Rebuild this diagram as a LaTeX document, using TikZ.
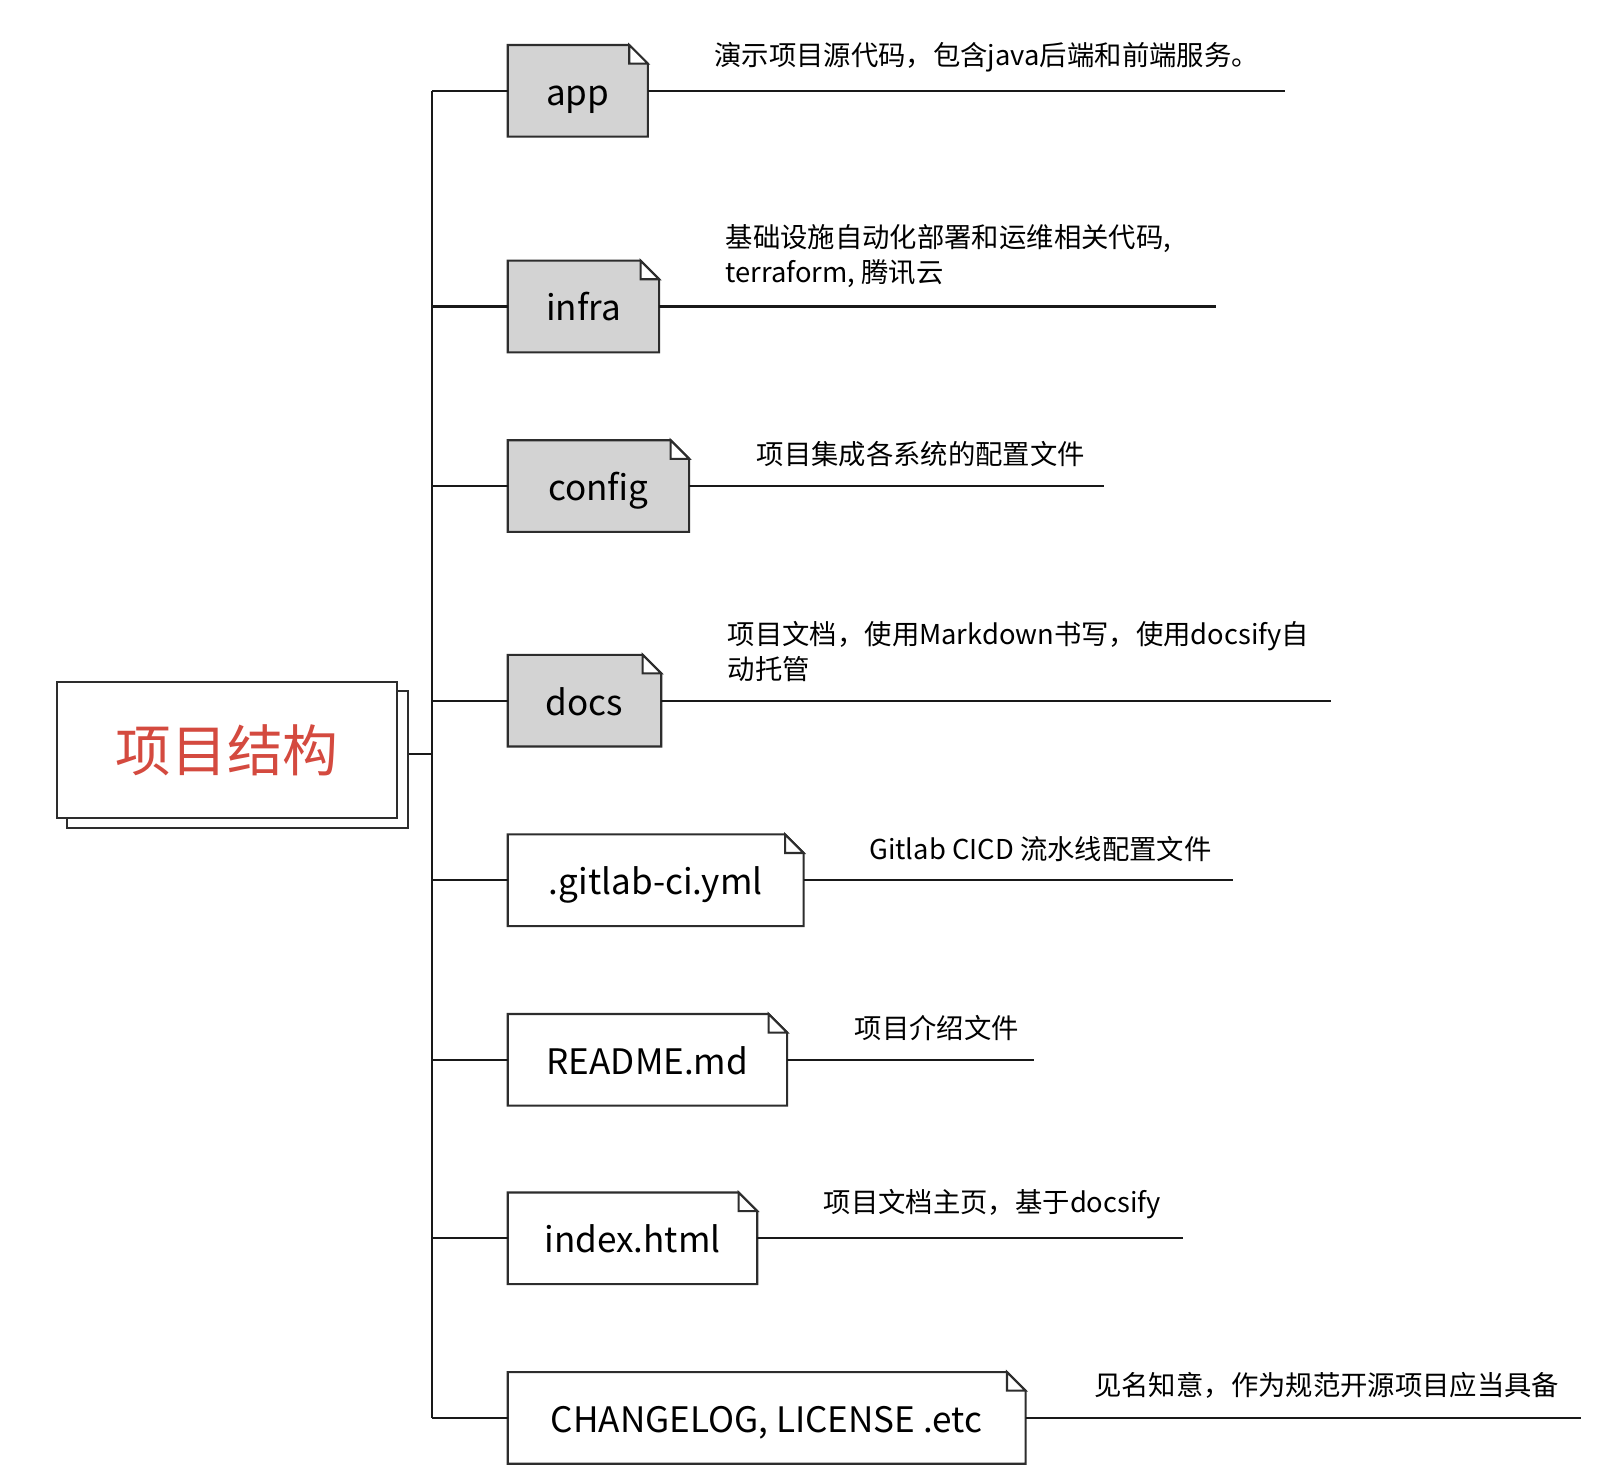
\documentclass[tikz,border=0pt]{standalone}
\usepackage{fontspec}
\setmainfont{Noto Sans CJK SC}
\usetikzlibrary{backgrounds,shadows}

\definecolor{dirfill}{RGB}{211,211,211}
\definecolor{titlered}{RGB}{212,74,63}
\definecolor{boxedge}{RGB}{45,45,45}

\tikzset{
  link/.style={draw=black!90, line width=1pt},
  boxline/.style={draw=boxedge, line width=1pt},
  filebox/.style={anchor=west, minimum height=44pt, inner sep=0pt,
    text height=16pt, text depth=2pt, font=\fontsize{17}{21}\selectfont},
  note/.style={anchor=south west, inner sep=0pt, align=left,
    font=\fontsize{13.25}{17}\selectfont},
}

\begin{document}
\begin{tikzpicture}[x=0.5pt,y=-0.5pt]
    \useasboundingbox (0,0) rectangle (1566,1436);

    % root
    \node[boxline, fill=white, minimum width=165pt, minimum height=66pt,
          copy shadow={shadow xshift=5pt, shadow yshift=-4.5pt},
          text=titlered, font=\fontsize{27}{30}\selectfont] (root) at (220,727) {项目结构};

    \coordinate (spine) at (419,0);

    % files and folders
    \node[filebox, minimum width=67.5pt]  (app)    at (492,88)   {app};
    \node[filebox, minimum width=73pt]    (infra)  at (492,297)  {infra};
    \node[filebox, minimum width=87.5pt]  (config) at (492,471)  {config};
    \node[filebox, minimum width=74pt]    (docs)   at (492,679)  {docs};
    \node[filebox, minimum width=143pt]   (gitlab) at (492,853)  {.gitlab-ci.yml};
    \node[filebox, minimum width=135pt]   (readme) at (492,1027) {README.md};
    \node[filebox, minimum width=120.5pt] (index)  at (492,1200) {index.html};
    \node[filebox, minimum width=250.5pt] (misc)   at (492,1374) {CHANGELOG, LICENSE .etc};

    % dog-ear outlines behind the labels
    \begin{scope}[on background layer]
        \foreach \n/\c in {app/dirfill, infra/dirfill, config/dirfill, docs/dirfill,
                           gitlab/white, readme/white, index/white, misc/white} {
            \filldraw[boxline, fill=\c] (\n.south west) -- (\n.north west)
                -- ([xshift=-9pt]\n.north east) -- ([yshift=-9pt]\n.north east)
                -- (\n.south east) -- cycle;
            \filldraw[boxline, fill=white] ([xshift=-9pt]\n.north east)
                -- ([xshift=-9pt,yshift=-9pt]\n.north east) -- ([yshift=-9pt]\n.north east) -- cycle;
        }
    \end{scope}

    % tree
    \draw[link] ([xshift=5pt,yshift=-2pt]root.east) -- ([yshift=-2pt]root.east -| spine);
    \draw[link] (app.west -| spine) -- (misc.west -| spine);
    \foreach \n in {app,infra,config,docs,gitlab,readme,index,misc}
        \draw[link] (\n.west -| spine) -- (\n.west);

    % notes
    \foreach \n/\e in {app/1245, infra/1178, config/1070, docs/1290,
                       gitlab/1195, readme/1002, index/1146, misc/1532}
        \draw[link] (\n.east) -- (\n.east -| \e,0);

    \node[note] (app-note)    at (692,70)   {演示项目源代码，包含java后端和前端服务。};
    \node[note] (infra-note)  at (703,279)  {基础设施自动化部署和运维相关代码,\\terraform, 腾讯云};
    \node[note] (config-note) at (733,453)  {项目集成各系统的配置文件};
    \node[note] (docs-note)   at (705,661)  {项目文档，使用Markdown书写，使用docsify自\\动托管};
    \node[note] (gitlab-note) at (842,835)  {Gitlab CICD 流水线配置文件};
    \node[note] (readme-note) at (828,1009) {项目介绍文件};
    \node[note] (index-note)  at (798,1182) {项目文档主页，基于docsify};
    \node[note] (misc-note)   at (1060,1356) {见名知意，作为规范开源项目应当具备};
\end{tikzpicture}
\end{document}
